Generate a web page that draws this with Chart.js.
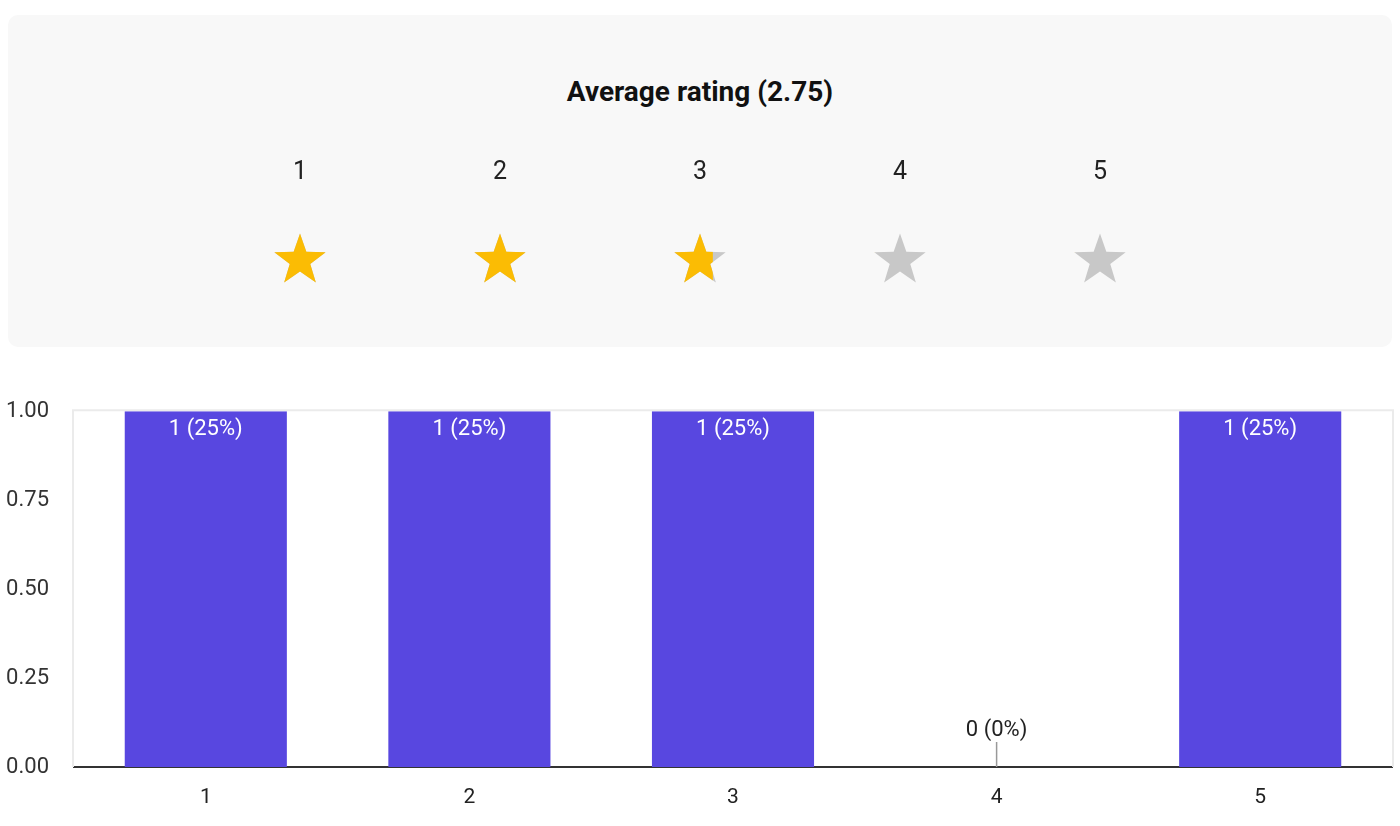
<!DOCTYPE html>
<html>
<head>
<meta charset="utf-8">
<script src="https://cdn.jsdelivr.net/npm/chart.js@4.4.1/dist/chart.umd.min.js"></script>
<style>
  html, body { margin:0; padding:0; background:#fff; width:1400px; height:826px; overflow:hidden; font-family: Roboto, "Noto Sans", sans-serif; }
  #panel { position:absolute; left:8px; top:15px; width:1384px; height:332px; background:#f8f8f8; border-radius:10px; }
  #title { position:absolute; left:0; top:76px; width:1400px; text-align:center; font-weight:700; font-size:28px; line-height:32px; color:#111; }
  #starBox { position:absolute; left:200px; top:142px; width:1000px; height:184px; }
  #barBox { position:absolute; left:0; top:373px; width:1400px; height:453px; }
</style>
</head>
<body>
<div id="panel"></div>
<div id="title"></div>
<div id="starBox"><canvas id="starChart"></canvas></div>
<div id="barBox"><canvas id="barChart"></canvas></div>
<script>
// rating distribution
const RATINGS = ["1", "2", "3", "4", "5"];
const RATING_VALUES = [1, 2, 3, 4, 5];
const COUNTS = [1, 1, 1, 0, 1];
const Y_TICKS = [0, 0.25, 0.5, 0.75, 1];

const BAR_COLOR = "#5847e0";
const STAR_ON = "#fbbc04";
const STAR_OFF = "#c8c8c8";

Chart.defaults.font.family = "Roboto, 'Noto Sans', sans-serif";
Chart.defaults.animation = false;

const total = COUNTS.reduce((s, c) => s + c, 0);
const avg = RATING_VALUES.reduce((s, v, i) => s + v * COUNTS[i], 0) / total;
document.getElementById("title").textContent = `Average rating (${avg.toFixed(2)})`;

// ======= Stars =======
function starImage(frac){
  const R = 27, W = 60, H = 60;
  const c = document.createElement("canvas");
  c.width = W; c.height = H;
  const g = c.getContext("2d");
  const cx = W / 2, cy = H / 2 + 0.0955 * R;
  const r = R * 0.40;
  g.beginPath();
  for (let k = 0; k < 10; k++){
    const rad = k % 2 ? r : R;
    const a = -Math.PI / 2 + k * Math.PI / 5;
    const px = cx + rad * Math.cos(a), py = cy + rad * Math.sin(a);
    k ? g.lineTo(px, py) : g.moveTo(px, py);
  }
  g.closePath();
  const half = R * Math.sin(2 * Math.PI / 5);
  const edge = cx - half + frac * 2 * half;
  g.save(); g.clip();
  g.fillStyle = STAR_OFF; g.fillRect(0, 0, W, H);
  g.fillStyle = STAR_ON; g.fillRect(0, 0, edge, H);
  g.restore();
  return c;
}

const starImgs = RATING_VALUES.map(v => starImage(Math.max(0, Math.min(1, avg - (v - 1)))));

new Chart(document.getElementById("starChart"), {
  type: "scatter",
  data: { datasets: [{
    data: RATING_VALUES.map(v => ({ x: v, y: 0 })),
    pointStyle: starImgs, pointRadius: 27, pointHoverRadius: 27
  }]},
  options: {
    responsive: true, maintainAspectRatio: false,
    layout: { padding: 0, autoPadding: false },
    plugins: { legend: { display: false }, tooltip: { enabled: false } },
    events: [],
    clip: false,
    scales: {
      x: { type: "linear", position: "top", min: 0.5, max: 5.5,
        afterBuildTicks: s => { s.ticks = RATING_VALUES.map(v => ({ value: v })); },
        afterFit: s => { s.height = 48; },
        grid: { display: false }, border: { display: false },
        ticks: { color: "#222", font: { size: 25 }, padding: -6, callback: (v, i) => RATINGS[i] } },
      y: { display: false, min: -1, max: 1 }
    }
  }
});

// ======= Bars =======
const framePlugin = {
  id: "frame",
  beforeDatasetsDraw(chart){
    const { ctx, chartArea: a } = chart;
    ctx.save();
    ctx.strokeStyle = "#ebebeb"; ctx.lineWidth = 2;
    ctx.beginPath();
    ctx.moveTo(a.left - 1, a.bottom); ctx.lineTo(a.left - 1, a.top - 1);
    ctx.lineTo(a.right + 1, a.top - 1); ctx.lineTo(a.right + 1, a.bottom);
    ctx.stroke();
    ctx.restore();
  }
};

const labelPlugin = {
  id: "barLabels",
  afterDatasetsDraw(chart){
    const { ctx } = chart;
    const meta = chart.getDatasetMeta(0);
    ctx.save();
    ctx.font = "22px Roboto, 'Noto Sans', sans-serif";
    ctx.textAlign = "center"; ctx.textBaseline = "middle";
    meta.data.forEach((bar, i) => {
      const v = COUNTS[i];
      const txt = `${v} (${Math.round(v / total * 100)}%)`;
      if (v > 0){
        ctx.fillStyle = "#fff";
        ctx.fillText(txt, bar.x, bar.y + 18);
      } else {
        ctx.strokeStyle = "#999"; ctx.lineWidth = 1.5;
        ctx.beginPath(); ctx.moveTo(bar.x, bar.y); ctx.lineTo(bar.x, bar.y - 25); ctx.stroke();
        ctx.fillStyle = "#222";
        ctx.fillText(txt, bar.x, bar.y - 37);
      }
    });
    ctx.restore();
  }
};

new Chart(document.getElementById("barChart"), {
  type: "bar",
  data: { labels: RATINGS, datasets: [{ data: COUNTS, backgroundColor: BAR_COLOR,
    categoryPercentage: 1, barPercentage: 0.615 }]},
  options: {
    responsive: true, maintainAspectRatio: false,
    layout: { padding: { top: 23, right: 8, left: 0, bottom: 0 } },
    plugins: { legend: { display: false }, tooltip: { enabled: false } },
    events: [],
    scales: {
      x: { grid: { display: false },
        border: { display: true, color: "#333", width: 2 },
        afterFit: s => { s.height = 59; },
        ticks: { color: "#222", font: { size: 21 }, padding: 10 } },
      y: { min: 0, max: 1,
        afterBuildTicks: s => { s.ticks = Y_TICKS.map(v => ({ value: v })); },
        afterFit: s => { s.width = 74; },
        grid: { display: false, drawTicks: false }, border: { display: false },
        ticks: { color: "#333", font: { size: 22 }, padding: 25, callback: v => Number(v).toFixed(2) } }
    }
  },
  plugins: [framePlugin, labelPlugin]
});
</script>
</body>
</html>
